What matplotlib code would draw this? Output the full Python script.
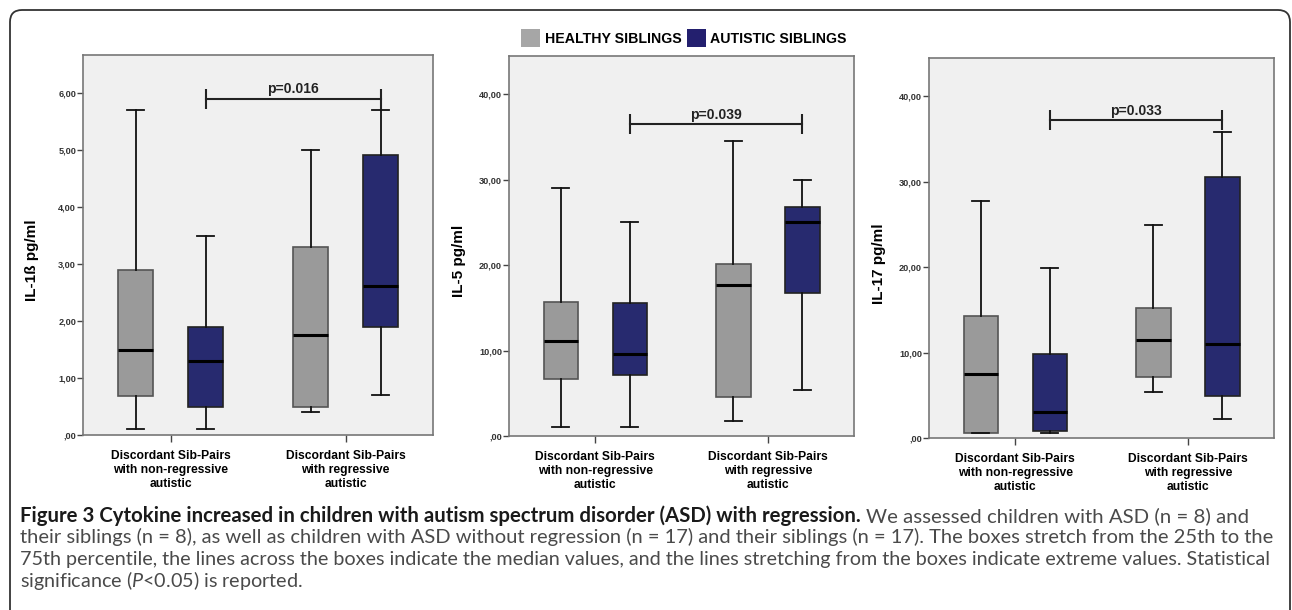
import matplotlib
matplotlib.use("Agg")
import matplotlib.pyplot as plt
from matplotlib.patches import Patch, FancyBboxPatch
from matplotlib.ticker import FuncFormatter, MultipleLocator
from matplotlib.transforms import IdentityTransform

groups = ["Discordant Sib-Pairs\nwith non-regressive\nautistic",
          "Discordant Sib-Pairs\nwith regressive\nautistic"]
series = ["HEALTHY SIBLINGS", "AUTISTIC SIBLINGS"]
ylabels = ["IL-1ß pg/ml", "IL-5 pg/ml", "IL-17 pg/ml"]
pvalues = ["p=0.016", "p=0.039", "p=0.033"]
p_levels = [5.9, 36.5, 37.2]
ymax = [6.67, 44.5, 44.5]
ystep = [1, 10, 10]

# [whislo, q1, med, q3, whishi]: healthy g1, autistic g1, healthy g2, autistic g2
il1b = [[0.10, 0.69, 1.49, 2.90, 5.71], [0.10, 0.50, 1.30, 1.89, 3.50],
        [0.40, 0.50, 1.75, 3.30, 5.00], [0.70, 1.89, 2.61, 4.91, 5.71]]
il5 = [[1.00, 6.70, 11.07, 15.67, 29.00], [1.00, 7.17, 9.63, 15.60, 25.10],
       [1.72, 4.52, 17.66, 20.20, 34.50], [5.42, 16.80, 25.10, 26.80, 29.98]]
il17 = [[0.59, 0.59, 7.50, 14.30, 27.80], [0.59, 0.82, 3.00, 9.80, 19.94],
        [5.42, 7.10, 11.50, 15.20, 24.98], [2.22, 4.88, 11.04, 30.60, 35.80]]
panels = [il1b, il5, il17]

cap_title = "Figure 3 Cytokine increased in children with autism spectrum disorder (ASD) with regression."
cap_lines = [
    "We assessed children with ASD (n = 8) and",
    "their siblings (n = 8), as well as children with ASD without regression (n = 17) and their siblings (n = 17). The boxes stretch from the 25th to the",
    "75th percentile, the lines across the boxes indicate the median values, and the lines stretching from the boxes indicate extreme values. Statistical",
    r"significance ($\mathit{P}$<0.05) is reported.",
]

W, H = 1292, 610
fig = plt.figure(figsize=(W / 100, H / 100), dpi=100)
fig.patch.set_facecolor("white")
plt.rcParams["font.family"] = ["Liberation Sans", "DejaVu Sans"]
plt.rcParams["mathtext.fontset"] = "custom"
plt.rcParams["mathtext.it"] = "Lato:italic"
plt.rcParams["mathtext.rm"] = "Lato"

gray, blue = "#9a9a9a", "#272a6f"
rects = [(83, 55, 433, 435), (509, 56, 854, 436), (929, 58, 1274, 438)]
positions = [0.8, 1.2, 1.8, 2.2]

def fmt(v, pos):
    s = f"{v:.2f}".replace(".", ",")
    return ",00" if abs(v) < 1e-9 else s

for k, data in enumerate(panels):
    x0, y0, x1, y1 = rects[k]
    ax = fig.add_axes([x0 / W, 1 - y1 / H, (x1 - x0) / W, (y1 - y0) / H])
    ax.set_facecolor("#f0f0f0")
    stats = [dict(whislo=d[0], q1=d[1], med=d[2], q3=d[3], whishi=d[4], fliers=[]) for d in data]
    bp = ax.bxp(stats, positions=positions, widths=0.2, capwidths=0.1, patch_artist=True,
                showfliers=False,
                medianprops=dict(color="black", lw=2.2),
                whiskerprops=dict(color="#111111", lw=1.3),
                capprops=dict(color="#111111", lw=1.3))
    for i, box in enumerate(bp["boxes"]):
        if i % 2 == 0:
            box.set_facecolor(gray)
            box.set_edgecolor("#555555")
        else:
            box.set_facecolor(blue)
            box.set_edgecolor("#222222")
        box.set_linewidth(1.2)
    ax.set_xlim(0.5, 2.5)
    ax.set_ylim(0, ymax[k])
    ax.yaxis.set_major_locator(MultipleLocator(ystep[k]))
    ax.yaxis.set_major_formatter(FuncFormatter(fmt))
    ax.set_xticks([1, 2])
    ax.set_xticklabels(groups, fontsize=8.7, fontweight="bold", linespacing=1.22)
    ax.tick_params(axis="y", labelsize=6.6, length=4, width=1, color="#444444", pad=1)
    ax.tick_params(axis="x", length=5, width=1, color="#444444", pad=6)
    for lab in ax.get_yticklabels():
        lab.set_fontweight("bold")
        lab.set_color("#333333")
    for sp in ax.spines.values():
        sp.set_color("#777777")
        sp.set_linewidth(1.2)
    ax.set_ylabel(ylabels[k], fontsize=11, fontweight="bold")
    ax.yaxis.set_label_coords(-0.125, 0.46)
    ax.plot([1.2, 2.2], [p_levels[k], p_levels[k]], color="#222222", lw=1.5,
            marker="|", markersize=14, mew=1.5)
    ax.annotate(pvalues[k], (1.7, p_levels[k]), xytext=(0, 2), textcoords="offset points",
                ha="center", va="bottom", fontsize=10, fontweight="bold", color="#222222")

handles = [Patch(facecolor="#a6a6a6", edgecolor="none"), Patch(facecolor="#231f6e", edgecolor="none")]
fig.legend(handles, series, loc="center", bbox_to_anchor=(684 / W, 1 - 38 / H), ncol=2,
           frameon=False, prop=dict(weight="bold", size=10.2), handlelength=1.35,
           handleheight=1.5, handletextpad=0.3, columnspacing=0.4)

# outer rounded frame
frame = FancyBboxPatch((10, -20), 1280, 620, boxstyle="round,pad=0,rounding_size=12",
                       transform=IdentityTransform(), fill=False, ec="#333333", lw=1.3)
fig.patches.append(frame)

# caption, one text per line, sized to fill the text block
renderer = fig.canvas.get_renderer()
cap_font = ["Lato", "DejaVu Sans"]
left, right = 20, 1268
baselines = [522, 543.5, 565, 587]
probe = 12.0

def cap_text(x, y, s, size, bold=False):
    return fig.text(x, H - y, s, fontsize=size, family=cap_font, ha="left", va="baseline",
                    color="#1a1a1a" if bold else "#4a4a4a",
                    fontweight="bold" if bold else "normal", transform=IdentityTransform())

def text_w(s, size, bold=False):
    t = cap_text(0, 0, s, size, bold)
    w = t.get_window_extent(renderer).width
    t.remove()
    return w

space = text_w("a a", probe) - text_w("aa", probe)
w1 = text_w(cap_title, probe, True) + space + text_w(cap_lines[0], probe)
w2 = text_w(cap_lines[1], probe)
w3 = text_w(cap_lines[2], probe)
sizes = [probe * (right - left) / w for w in (w1, w2, w3)]
base = min(sizes)
sizes = [min(s, base * 1.03) for s in sizes]

t = cap_text(left, baselines[0], cap_title, sizes[0], True)
xe = t.get_window_extent(renderer).x1 + space * sizes[0] / probe
cap_text(xe, baselines[0], cap_lines[0], sizes[0])
cap_text(left, baselines[1], cap_lines[1], sizes[1])
cap_text(left, baselines[2], cap_lines[2], sizes[2])
cap_text(left, baselines[3], cap_lines[3], base)

fig.savefig("out.png", dpi=100)
